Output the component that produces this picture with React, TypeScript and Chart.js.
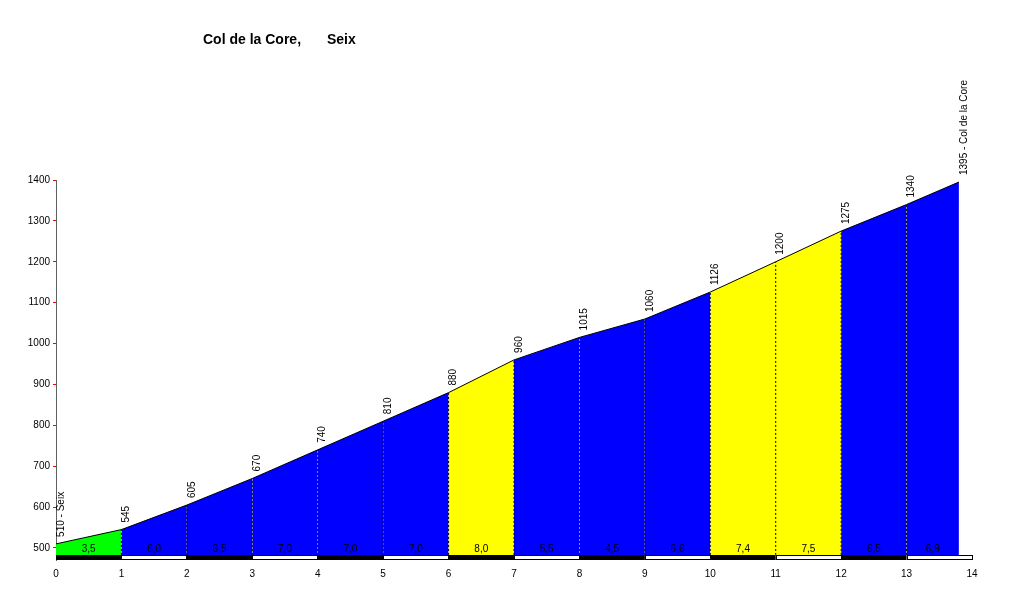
import React, { useEffect, useRef } from "react";
import { Chart, registerables } from "chart.js";

Chart.register(...registerables);

const TITLE_PASS = "Col de la Core,";
const TITLE_START = "Seix";
const distancesKm = [0, 1, 2, 3, 4, 5, 6, 7, 8, 9, 10, 11, 12, 13, 13.8];
const elevations = [510, 545, 605, 670, 740, 810, 880, 960, 1015, 1060, 1126, 1200, 1275, 1340, 1395];
const gradients = [3.5, 6.0, 6.5, 7.0, 7.0, 7.0, 8.0, 5.5, 4.5, 6.6, 7.4, 7.5, 6.5, 6.9];
const startLabel = "510 - Seix";
const endLabel = "1395 - Col de la Core";
const yTickValues = [500, 600, 700, 800, 900, 1000, 1100, 1200, 1300, 1400];
const kmMarks = [0, 1, 2, 3, 4, 5, 6, 7, 8, 9, 10, 11, 12, 13, 14];

const Y_MIN = 470.6;
const Y_MAX = 1400;
const BASE = 483;
const X_MAX = 14;
const FONT = "'Liberation Sans', Arial, sans-serif";

function colorFor(g: number): string {
  if (g < 4) return "#00ff00";
  if (g <= 7) return "#0000ff";
  return "#ffff00";
}

const labelsPlugin = {
  id: "profileLabels",
  beforeDatasetsDraw(chart: any) {
    const { ctx, scales } = chart;
    const xs = scales.x;
    const ys = scales.y;
    const top = ys.getPixelForValue(BASE);
    const bottom = ys.getPixelForValue(Y_MIN);
    ctx.save();
    for (let k = 0; k < kmMarks.length - 1; k++) {
      const x0 = xs.getPixelForValue(kmMarks[k]);
      const x1 = xs.getPixelForValue(kmMarks[k + 1]);
      ctx.fillStyle = k % 2 === 0 ? "#000000" : "#ffffff";
      ctx.fillRect(x0, top, x1 - x0, bottom - top);
      ctx.strokeStyle = "#000000";
      ctx.lineWidth = 1;
      ctx.strokeRect(Math.round(x0) + 0.5, Math.round(top) + 0.5, Math.round(x1 - x0), Math.round(bottom - top) - 1);
    }
    ctx.restore();
  },
  afterDraw(chart: any) {
    const { ctx, scales } = chart;
    const xs = scales.x;
    const ys = scales.y;
    ctx.save();
    ctx.fillStyle = "#000";
    ctx.font = `bold 14px ${FONT}`;
    ctx.textBaseline = "middle";
    ctx.textAlign = "left";
    ctx.fillText(TITLE_PASS, 203, 40);
    ctx.fillText(TITLE_START, 327, 40);
    ctx.font = `10px ${FONT}`;
    ctx.textAlign = "center";
    for (let i = 0; i < gradients.length; i++) {
      const xm = xs.getPixelForValue((distancesKm[i] + distancesKm[i + 1]) / 2);
      const y = ys.getPixelForValue(BASE) - 6;
      ctx.fillText(gradients[i].toFixed(1).replace(".", ","), xm, y);
    }
    ctx.textAlign = "left";
    for (let i = 0; i < elevations.length; i++) {
      const txt = i === 0 ? startLabel : i === elevations.length - 1 ? endLabel : String(elevations[i]);
      const x = xs.getPixelForValue(distancesKm[i]) + 5;
      const y = ys.getPixelForValue(elevations[i]) - 7;
      ctx.save();
      ctx.translate(x, y);
      ctx.rotate(-Math.PI / 2);
      ctx.fillText(txt, 0, 0);
      ctx.restore();
    }
    ctx.restore();
  },
};

export default function App() {
  const ref = useRef<HTMLCanvasElement | null>(null);
  useEffect(() => {
    if (!ref.current) return;
    const datasets: any[] = [];
    for (let k = 1; k <= 13; k++) {
      datasets.push({
        data: [
          { x: distancesKm[k], y: BASE },
          { x: distancesKm[k], y: elevations[k] },
        ],
        borderColor: "#000000",
        borderWidth: 1,
        borderDash: [2, 2],
        pointRadius: 0,
        fill: false,
        order: 0,
      });
    }
    for (let i = 0; i < gradients.length; i++) {
      datasets.push({
        data: [
          { x: distancesKm[i], y: elevations[i] },
          { x: distancesKm[i + 1], y: elevations[i + 1] },
        ],
        borderColor: "#000000",
        borderWidth: 1,
        backgroundColor: colorFor(gradients[i]),
        pointRadius: 0,
        fill: { value: BASE },
        order: 1,
      });
    }
    const chart = new Chart(ref.current, {
      type: "line",
      data: { datasets },
      options: {
        animation: false,
        responsive: false,
        layout: { padding: { top: 180, right: 41, bottom: 0, left: 0 } },
        plugins: { legend: { display: false }, tooltip: { enabled: false }, title: { display: false } },
        scales: {
          x: {
            type: "linear",
            min: 0,
            max: X_MAX,
            afterBuildTicks: (s: any) => {
              s.ticks = kmMarks.map((v) => ({ value: v }));
            },
            afterFit: (s: any) => {
              s.height = 40;
            },
            grid: { display: false },
            border: { display: false },
            ticks: {
              color: "#000",
              font: { family: FONT, size: 10 },
              padding: 0,
              maxRotation: 0,
              autoSkip: false,
              callback: (v: any) => String(v),
            },
          },
          y: {
            type: "linear",
            min: Y_MIN,
            max: Y_MAX,
            afterBuildTicks: (s: any) => {
              s.ticks = yTickValues.map((v) => ({ value: v }));
            },
            afterFit: (s: any) => {
              s.width = 56;
            },
            grid: { drawOnChartArea: false, color: "#ff0000", tickLength: 3 },
            border: { color: "#606060", width: 1, dash: [1, 1] },
            ticks: {
              color: "#000",
              font: { family: FONT, size: 10 },
              padding: 3,
              autoSkip: false,
              callback: (v: any) => String(v),
            },
          },
        },
      },
      plugins: [labelsPlugin],
    });
    return () => chart.destroy();
  }, []);
  return (
    <div style={{ position: "absolute", left: 0, top: 0, width: 1013, height: 600, background: "#fff" }}>
      <canvas ref={ref} width={1013} height={600} style={{ width: 1013, height: 600 }} />
    </div>
  );
}
